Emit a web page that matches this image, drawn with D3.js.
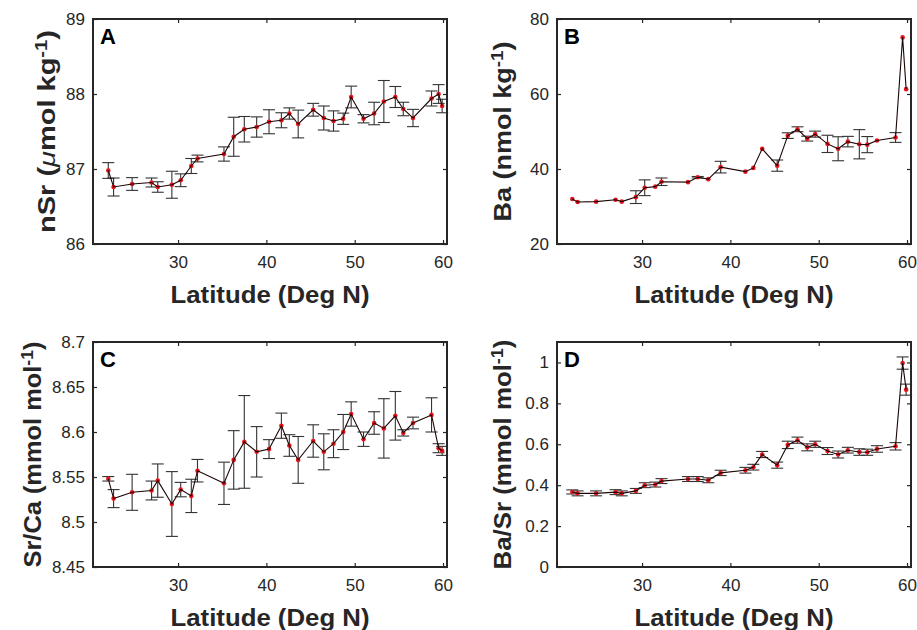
<!DOCTYPE html>
<html>
<head>
<meta charset="utf-8">
<script src="https://cdn.jsdelivr.net/npm/d3@7"></script>
<style>
  html, body { margin: 0; padding: 0; background: #fff; }
  svg { display: block; font-family: "Liberation Sans", Arial, Helvetica, sans-serif; }
</style>
</head>
<body>
<svg id="chart" width="917" height="630"></svg>
<script>
// Station latitudes (deg N), shared by all four panels
const latitude = [22.1, 22.7, 24.8, 27.0, 27.7, 29.3, 30.3, 31.5, 32.2, 35.2, 36.3, 37.5, 38.9, 40.3, 41.7, 42.6,
                  43.6, 45.3, 46.5, 47.6, 48.7, 49.6, 51.0, 52.2, 53.3, 54.6, 55.5, 56.6, 58.7, 59.5, 59.9];

// Salinity-normalised Sr (umol/kg) and 1-sigma errors
const nSr    = [86.98, 86.76, 86.80, 86.82, 86.76, 86.79, 86.85, 87.04, 87.14, 87.20, 87.43, 87.53, 87.56, 87.63, 87.65, 87.74,
                87.60, 87.79, 87.68, 87.64, 87.67, 87.96, 87.67, 87.74, 87.90, 87.96, 87.80, 87.68, 87.94, 88.00, 87.84];
const nSrErr = [0.105, 0.12, 0.085, 0.06, 0.07, 0.18, 0.085, 0.10, 0.045, 0.095, 0.26, 0.17, 0.135, 0.16, 0.10, 0.075,
                0.185, 0.085, 0.16, 0.135, 0.075, 0.145, 0.055, 0.15, 0.28, 0.14, 0.09, 0.115, 0.10, 0.125, 0.09];

// Dissolved Ba (nmol/kg); null = not measured / no error bar
const ba     = [32.0, 31.2, 31.3, 31.8, 31.3, 32.5, 35.0, 35.3, 36.6, 36.5, 37.8, 37.3, 40.5, null, 39.3, 40.3,
                45.4, 40.9, 48.9, 50.6, 48.1, 49.3, 46.7, 45.4, 47.3, 46.6, 46.5, 47.6, 48.4, 75.1, 61.3];
const baErr  = [null, null, null, null, null, 1.7, 2.1, null, 1.0, null, 0.2, null, 1.55, null, null, null,
                null, 1.5, 0.75, 0.65, 0.65, 0.8, 2.3, 3.2, 1.4, 3.9, 2.15, null, 1.3, null, null];

// Sr/Ca (mmol/mol)
const srCa    = [8.548, 8.526, 8.533, 8.535, 8.546, 8.520, 8.536, 8.529, 8.557, 8.543, 8.569, 8.589, 8.578, 8.581, 8.607, 8.585,
                 8.569, 8.590, 8.578, 8.587, 8.600, 8.620, 8.592, 8.610, 8.604, 8.618, 8.599, 8.610, 8.619, 8.582, 8.579];
const srCaErr = [0.0025, 0.010, 0.020, 0.0105, 0.0185, 0.036, 0.008, 0.0185, 0.0125, 0.0235, 0.0325, 0.0515, 0.028, 0.0105, 0.014, 0.012,
                 0.026, 0.018, 0.020, 0.0155, 0.0195, 0.0135, 0.008, 0.0125, 0.033, 0.027, 0.0035, 0.0065, 0.019, 0.005, 0.005];

// Ba/Sr (mmol/mol)
const baSr    = [0.367, 0.360, 0.360, 0.366, 0.360, 0.372, 0.400, 0.403, 0.420, 0.430, 0.430, 0.424, 0.460, null, 0.473, 0.488,
                 0.550, 0.498, 0.597, 0.620, 0.585, 0.600, 0.567, 0.550, 0.571, 0.562, 0.561, 0.577, 0.590, 0.997, 0.867];
const baSrErr = [0.010, 0.012, 0.012, 0.012, 0.012, 0.012, 0.012, 0.012, 0.012, 0.012, 0.012, 0.012, 0.013, null, 0.014, 0.014,
                 0.015, 0.015, 0.018, 0.015, 0.017, 0.015, 0.017, 0.017, 0.014, 0.016, 0.015, 0.016, 0.018, 0.030, 0.027];

// Axis ticks
const xTicks   = [30, 40, 50, 60];
const nSrTicks = [86, 87, 88, 89];
const baTicks  = [20, 40, 60, 80];
const srCaTicks = [8.45, 8.5, 8.55, 8.6, 8.65, 8.7];
const baSrTicks = [0, 0.2, 0.4, 0.6, 0.8, 1];

const svg = d3.select("#chart");
const ink = "#262626";
const W = 354, H = 225;

const panels = [
  { letter: "A", left: 93,  top: 19,  y: nSr,  err: nSrErr,  dom: [86, 89],     ticks: nSrTicks, fmt: d3.format("d"),
    label: [["nSr (", null], ["\u03bc", "it"], ["mol kg", null], ["-1", "sup"], [")", null]], labelX: 55, labelLen: 203 },
  { letter: "B", left: 557, top: 19,  y: ba,   err: baErr,   dom: [20, 80],     ticks: baTicks,  fmt: d3.format("d"),
    label: [["Ba (nmol kg", null], ["-1", "sup"], [")", null]], labelX: 511, labelLen: 180 },
  { letter: "C", left: 93,  top: 342, y: srCa, err: srCaErr, dom: [8.45, 8.7],  ticks: srCaTicks, fmt: d => String(+d.toFixed(2)),
    label: [["Sr/Ca (mmol mol", null], ["-1", "sup"], [")", null]], labelX: 41, labelLen: 226 },
  { letter: "D", left: 557, top: 342, y: baSr, err: baSrErr, dom: [0, 1.1],     ticks: baSrTicks, fmt: d => String(+d.toFixed(1)),
    label: [["Ba/Sr (mmol mol", null], ["-1", "sup"], [")", null]], labelX: 511, labelLen: 230 }
];

panels.forEach(p => {
  const g = svg.append("g").attr("transform", `translate(${p.left},${p.top})`);
  const x = d3.scaleLinear().domain([20.37, 60.45]).range([0, W]);
  const y = d3.scaleLinear().domain(p.dom).range([H, 0]);

  const rows = latitude.map((lat, i) => ({ lat, v: p.y[i], e: p.err[i] }));
  const pts = rows.filter(r => r.v != null);

  // axes with inward ticks on all four sides
  const ax = (gen, tr) => {
    const a = g.append("g").attr("transform", tr).call(gen);
    a.select(".domain").remove();
    a.selectAll(".tick line").attr("stroke", ink).attr("stroke-width", 1.2);
    a.selectAll("text").attr("fill", ink).attr("font-size", 17).attr("font-family", null);
    return a;
  };
  ax(d3.axisBottom(x).tickValues(xTicks).tickSize(-4).tickPadding(12), `translate(0,${H})`);
  ax(d3.axisTop(x).tickValues(xTicks).tickSize(-4).tickFormat(""), "translate(0,0)");
  ax(d3.axisLeft(y).tickValues(p.ticks).tickSize(-4).tickPadding(8).tickFormat(p.fmt), "translate(0,0)");
  ax(d3.axisRight(y).tickValues(p.ticks).tickSize(-4).tickFormat(""), `translate(${W},0)`);

  // error bars
  const eb = g.append("g").attr("stroke", "#333").attr("stroke-width", 1.1).attr("fill", "none");
  pts.filter(r => r.e != null).forEach(r => {
    const cx = x(r.lat), y1 = y(r.v + r.e), y0 = y(r.v - r.e);
    eb.append("line").attr("x1", cx).attr("x2", cx).attr("y1", y1).attr("y2", y0);
    eb.append("line").attr("x1", cx - 6).attr("x2", cx + 6).attr("y1", y1).attr("y2", y1);
    eb.append("line").attr("x1", cx - 6).attr("x2", cx + 6).attr("y1", y0).attr("y2", y0);
  });

  // markers
  g.append("g").selectAll("circle").data(pts).join("circle")
    .attr("cx", d => x(d.lat)).attr("cy", d => y(d.v)).attr("r", 2.3).attr("fill", "#e8141b");

  // connecting line
  g.append("path").datum(pts)
    .attr("fill", "none").attr("stroke", "#1c0606").attr("stroke-width", 1.1)
    .attr("d", d3.line().x(d => x(d.lat)).y(d => y(d.v)));

  // frame
  g.append("rect").attr("width", W).attr("height", H)
    .attr("fill", "none").attr("stroke", ink).attr("stroke-width", 2);

  // panel letter
  g.append("text").attr("x", 7).attr("y", 25).attr("font-size", 22).attr("font-weight", "bold")
    .attr("fill", "#000").text(p.letter);

  // x title
  g.append("text").attr("x", W / 2).attr("y", H + 59).attr("text-anchor", "middle")
    .attr("font-size", 23).attr("font-weight", "bold").attr("fill", ink)
    .attr("textLength", 199).attr("lengthAdjust", "spacingAndGlyphs")
    .text("Latitude (Deg N)");

  // y title
  const yt = svg.append("text")
    .attr("transform", `translate(${p.labelX},${p.top + H / 2}) rotate(-90)`)
    .attr("text-anchor", "middle").attr("font-size", 23).attr("font-weight", "bold").attr("fill", ink)
    .attr("textLength", p.labelLen).attr("lengthAdjust", "spacingAndGlyphs");
  p.label.forEach(([t, kind]) => {
    const ts = yt.append("tspan").text(t);
    if (kind === "it") ts.attr("font-style", "italic").attr("font-weight", "normal");
    if (kind === "sup") ts.attr("font-size", 16).attr("baseline-shift", "super");
  });
});
</script>
</body>
</html>
